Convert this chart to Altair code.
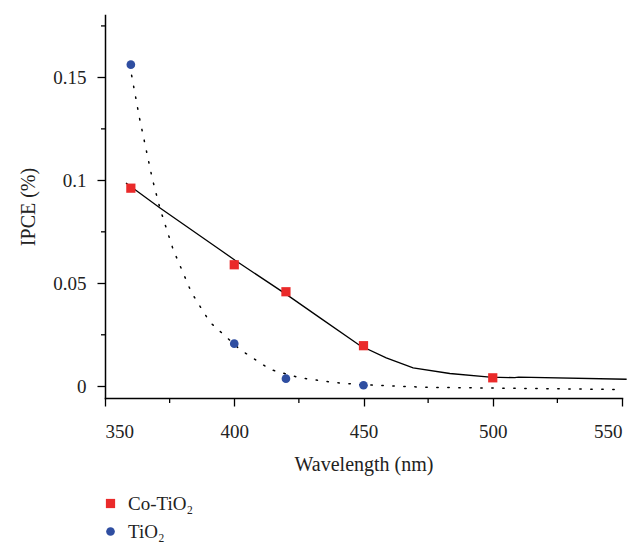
import altair as alt
import pandas as pd

FONT = "Liberation Serif"

# Measured points
co_x = [360, 400, 420, 450, 500]
co_y = [0.0962, 0.0590, 0.0459, 0.0197, 0.0041]
ti_x = [360, 400, 420, 450]
ti_y = [0.1562, 0.0207, 0.0037, 0.0005]

# Fitted curves
co_fit_x = [358.1, 371.3, 394.5, 400.3, 420.3, 433.2, 448.6, 458.8, 469.2, 483.4, 498.9, 508.5, 510.0, 551.8]
co_fit_y = [0.0987, 0.0866, 0.0663, 0.0612, 0.0445, 0.0332, 0.0198, 0.0138, 0.0089, 0.0062, 0.0044, 0.0042, 0.0044, 0.0034]
ti_fit_x = [360.3, 363.3, 368.3, 371.3, 376.4, 383.5, 390.6, 402.2, 413.8, 425.4, 438.2, 448.6, 474.4, 549.2]
ti_fit_y = [0.151, 0.1305, 0.1008, 0.0862, 0.0663, 0.0454, 0.0311, 0.0179, 0.0082, 0.0041, 0.0019, 0.0008, -0.0005, -0.0016]

series_names = ["Co-TiO₂", "TiO₂"]
x_major = [350, 400, 450, 500, 550]
x_minor = [375, 425, 475, 525]
y_major = [0, 0.05, 0.1, 0.15]
y_minor = [0.025, 0.075, 0.125, 0.175]

pts = pd.DataFrame(
    {"wavelength": co_x + ti_x,
     "ipce": co_y + ti_y,
     "series": [series_names[0]] * len(co_x) + [series_names[1]] * len(ti_x)}
)
co_fit = pd.DataFrame({"wavelength": co_fit_x, "ipce": co_fit_y})
ti_fit = pd.DataFrame({"wavelength": ti_fit_x, "ipce": ti_fit_y})
xmin_df = pd.DataFrame({"wavelength": x_minor})
ymin_df = pd.DataFrame({"ipce": y_minor})

xscale = alt.Scale(domain=[350, 550], nice=False, zero=False)
yscale = alt.Scale(domain=[-0.0057, 0.1803], nice=False, zero=False)

W, H = 517, 383

xaxis = alt.Axis(values=x_major, tickSize=8, tickWidth=1.3, tickColor="black",
                 domainColor="black", domainWidth=1.5, labelFontSize=19,
                 labelFont=FONT, labelColor="#222", labelPadding=16, grid=False,
                 title="Wavelength (nm)", titleFont=FONT, titleFontSize=20,
                 titleFontWeight="normal", titleColor="#222", titlePadding=13)
yaxis = alt.Axis(values=y_major, format="~g", tickSize=8, tickWidth=1.3, tickColor="black",
                 domainColor="black", domainWidth=1.5, labelFontSize=19,
                 labelFont=FONT, labelColor="#222", labelPadding=11, grid=False,
                 title="IPCE (%)", titleFont=FONT, titleFontSize=20,
                 titleFontWeight="normal", titleColor="#222", titlePadding=14)

co_line = alt.Chart(co_fit).mark_line(color="black", strokeWidth=1.3).encode(
    x=alt.X("wavelength:Q", scale=xscale, axis=xaxis),
    y=alt.Y("ipce:Q", scale=yscale, axis=yaxis),
)
ti_line = alt.Chart(ti_fit).mark_line(color="black", strokeWidth=1.5,
                                      strokeDash=[1.4, 9.6], strokeCap="round").encode(
    x=alt.X("wavelength:Q", scale=xscale),
    y=alt.Y("ipce:Q", scale=yscale),
)

points = alt.Chart(pts).mark_point(filled=True, opacity=1, strokeWidth=0).encode(
    x=alt.X("wavelength:Q", scale=xscale),
    y=alt.Y("ipce:Q", scale=yscale),
    color=alt.Color("series:N",
                    scale=alt.Scale(domain=series_names, range=["#ea2a2a", "#2f4ea1"]),
                    legend=alt.Legend(title=None, orient="none", legendX=-4, legendY=479,
                                      labelFont=FONT, labelFontSize=19, labelColor="#222",
                                      symbolSize=70, rowPadding=8, labelOffset=8,
                                      padding=0)),
    shape=alt.Shape("series:N",
                    scale=alt.Scale(domain=series_names, range=["square", "circle"])),
    size=alt.Size("series:N", scale=alt.Scale(domain=series_names, range=[85, 75]), legend=None),
)

xminor = alt.Chart(xmin_df).mark_rule(color="black", strokeWidth=1.3).encode(
    x=alt.X("wavelength:Q", scale=xscale),
    y=alt.value(H), y2=alt.value(H + 5),
)
yminor = alt.Chart(ymin_df).mark_rule(color="black", strokeWidth=1.3).encode(
    y=alt.Y("ipce:Q", scale=yscale),
    x=alt.value(-4), x2=alt.value(0),
)

chart = alt.layer(co_line, ti_line, points, xminor, yminor).properties(
    width=W, height=H,
    autosize=alt.AutoSizeParams(type="none"),
    padding={"left": 97, "top": 7, "right": 7, "bottom": 146},
).configure_view(stroke=None).configure_axis(domainCap="square")

chart.save("out.html", embed_options={"renderer": "svg", "actions": False})
